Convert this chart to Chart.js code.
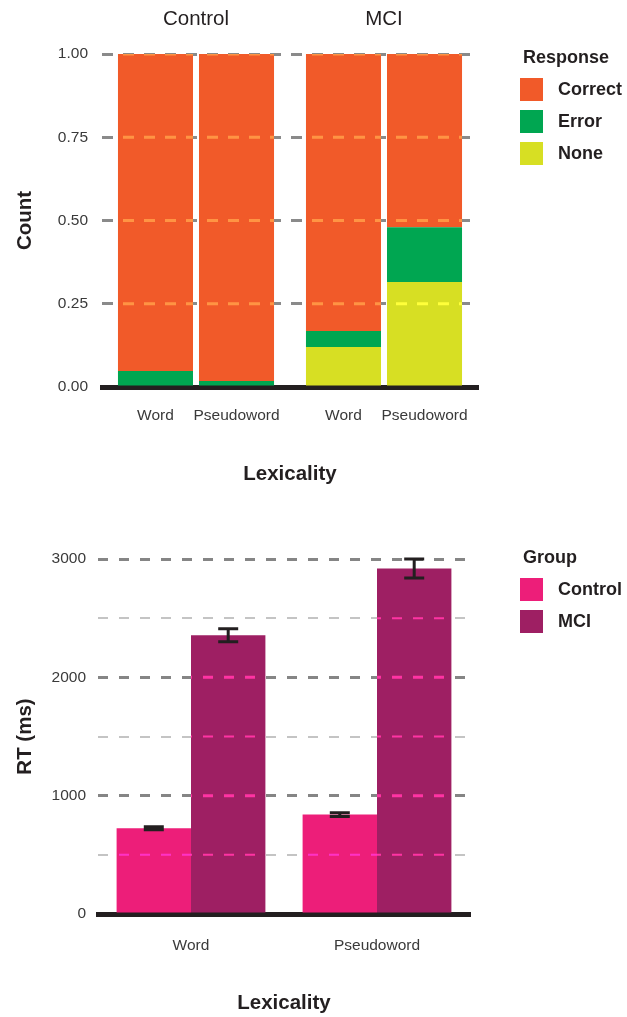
<!DOCTYPE html>
<html>
<head>
<meta charset="utf-8">
<script src="https://cdn.jsdelivr.net/npm/chart.js@4.4.0/dist/chart.umd.min.js"></script>
<style>
  body { margin: 0; background: #fff; font-family: "Liberation Sans", Arial, sans-serif; color: #231f20; }
  #wrap { position: relative; width: 627px; height: 1017px; }
  canvas { position: absolute; left: 0; }
  #top-chart { top: 0; }
  #rt-chart { top: 500px; }
  .legend { position: absolute; left: 520px; }
  .legend .title { font-weight: bold; font-size: 18px; line-height: 24px; margin-left: 3px; }
  .legend .item { display: flex; align-items: center; height: 32px; font-weight: bold; font-size: 18px; }
  .legend .swatch { width: 23px; height: 23px; margin-right: 15px; }
</style>
</head>
<body>
<div id="wrap">
  <canvas id="top-chart" width="627" height="500"></canvas>
  <canvas id="rt-chart" width="627" height="517"></canvas>
  <div class="legend" id="response-legend" style="top:45px"></div>
  <div class="legend" id="group-legend" style="top:545px"></div>
</div>
<script>
// --- data: response proportions (top) ---
const facets = ['Control', 'MCI'];
const lexicality = ['Word', 'Pseudoword'];
const responses = ['Correct', 'Error', 'None'];
const responseColors = ['#f15a29', '#00a651', '#d7df23'];
// one value per facet (Control, MCI)
const correctWord = [0.952, 0.832];
const errorWord = [0.048, 0.048];
const noneWord = [0, 0.12];
const correctPseudo = [0.982, 0.52];
const errorPseudo = [0.018, 0.165];
const nonePseudo = [0, 0.315];
const countTicks = [0, 0.25, 0.5, 0.75, 1];

// --- data: reaction times (bottom) ---
const groups = ['Control', 'MCI'];
const groupColors = ['#ed1e79', '#9e1f63'];
const rtControl = [725, 840];
const rtMCI = [2355, 2920];
const seControl = [12, 15];
const seMCI = [55, 80];

const FONT = '"Liberation Sans", Arial, sans-serif';
const INK = '#231f20';
const TICK = '#3a3a3a';

// html legends
const buildLegend = (el, title, names, colors) => {
  let html = '<div class="title">' + title + '</div><div style="height:4px"></div>';
  names.forEach((n, i) => {
    html += '<div class="item"><div class="swatch" style="background:' + colors[i] + '"></div>' + n + '</div>';
  });
  el.innerHTML = html;
};
buildLegend(document.getElementById('response-legend'), 'Response', responses, responseColors);
buildLegend(document.getElementById('group-legend'), 'Group', groups, groupColors);

// light dashes over the bars where grid lines cross them
const gridOverlay = {
  id: 'gridOverlay',
  afterDatasetsDraw(chart, args, opts) {
    const ctx = chart.ctx;
    const y = chart.scales.y;
    const area = chart.chartArea;
    ctx.save();
    ctx.beginPath();
    chart.data.datasets.forEach((ds, di) => {
      chart.getDatasetMeta(di).data.forEach(bar => {
        const p = bar.getProps(['x', 'y', 'base', 'width'], true);
        ctx.rect(p.x - p.width / 2, Math.min(p.y, p.base), p.width, Math.abs(p.base - p.y));
      });
    });
    ctx.clip();
    ctx.globalCompositeOperation = 'color-dodge';
    ctx.setLineDash(opts.dash);
    ctx.strokeStyle = 'rgb(100,100,100)';
    y.ticks.forEach(t => {
      if (t.value === 0) return;
      const py = y.getPixelForValue(t.value);
      ctx.lineWidth = opts.width(t.value);
      ctx.beginPath();
      ctx.moveTo(area.left, py);
      ctx.lineTo(area.right, py);
      ctx.stroke();
    });
    ctx.restore();
  }
};

// facet titles + per-bar lexicality labels for the top chart
const facetLabels = {
  id: 'facetLabels',
  afterDraw(chart) {
    const ctx = chart.ctx;
    const x = chart.scales.x;
    const area = chart.chartArea;
    ctx.save();
    ctx.fillStyle = INK;
    ctx.textAlign = 'center';
    ctx.textBaseline = 'middle';
    ctx.font = '20.5px ' + FONT;
    facets.forEach((f, i) => ctx.fillText(f, x.getPixelForValue(i), area.top - 35));
    ctx.fillStyle = TICK;
    ctx.font = '15.5px ' + FONT;
    [0, 3].forEach((di, li) => {
      chart.getDatasetMeta(di).data.forEach(bar => {
        ctx.fillText(lexicality[li], bar.x, area.bottom + 29);
      });
    });
    ctx.restore();
  }
};

const stackSet = (label, data, stack) => ({
  label, data, stack,
  backgroundColor: responseColors[responses.indexOf(label)],
  categoryPercentage: 0.862,
  barPercentage: 0.926
});

new Chart(document.getElementById('top-chart'), {
  type: 'bar',
  data: {
    labels: facets,
    datasets: [
      stackSet('None', noneWord, 'Word'),
      stackSet('Error', errorWord, 'Word'),
      stackSet('Correct', correctWord, 'Word'),
      stackSet('None', nonePseudo, 'Pseudoword'),
      stackSet('Error', errorPseudo, 'Pseudoword'),
      stackSet('Correct', correctPseudo, 'Pseudoword')
    ]
  },
  plugins: [gridOverlay, facetLabels],
  options: {
    responsive: false,
    animation: false,
    layout: { padding: { top: 54, right: 149, left: 0, bottom: 0 } },
    plugins: {
      legend: { display: false },
      tooltip: { enabled: false },
      gridOverlay: { dash: [11, 10], width: () => 3 }
    },
    scales: {
      x: {
        stacked: true,
        ticks: { display: false },
        grid: { display: false, drawTicks: false },
        border: { display: true, color: INK, width: 5 },
        title: { display: true, text: 'Lexicality', color: INK, font: { family: FONT, size: 20.5, weight: 'bold' }, padding: { top: 0, bottom: 13 } },
        afterFit: s => { s.height = 113; }
      },
      y: {
        stacked: true,
        min: 0,
        max: 1,
        afterBuildTicks: s => { s.ticks = countTicks.map(v => ({ value: v })); },
        ticks: { callback: v => Number(v).toFixed(2), padding: 14, color: TICK, font: { family: FONT, size: 15.5 } },
        grid: { color: '#8a8a8a', lineWidth: 3, drawTicks: false },
        border: { display: false, dash: [11, 10] },
        title: { display: true, text: 'Count', color: INK, font: { family: FONT, size: 20.5, weight: 'bold' }, padding: { top: 13 } },
        afterFit: s => { s.width = 102; }
      }
    }
  }
});

// error bars for the RT chart
const errorBars = {
  id: 'errorBars',
  afterDatasetsDraw(chart) {
    const ctx = chart.ctx;
    const y = chart.scales.y;
    const errs = [seControl, seMCI];
    ctx.save();
    ctx.strokeStyle = INK;
    ctx.lineWidth = 3;
    chart.data.datasets.forEach((ds, di) => {
      chart.getDatasetMeta(di).data.forEach((bar, i) => {
        const top = y.getPixelForValue(ds.data[i] + errs[di][i]);
        const bot = y.getPixelForValue(ds.data[i] - errs[di][i]);
        ctx.beginPath();
        ctx.moveTo(bar.x, top); ctx.lineTo(bar.x, bot);
        ctx.moveTo(bar.x - 10, top); ctx.lineTo(bar.x + 10, top);
        ctx.moveTo(bar.x - 10, bot); ctx.lineTo(bar.x + 10, bot);
        ctx.stroke();
      });
    });
    ctx.restore();
  }
};

new Chart(document.getElementById('rt-chart'), {
  type: 'bar',
  data: {
    labels: lexicality,
    datasets: [
      { label: 'Control', data: rtControl, backgroundColor: groupColors[0], categoryPercentage: 0.8, barPercentage: 1.0 },
      { label: 'MCI', data: rtMCI, backgroundColor: groupColors[1], categoryPercentage: 0.8, barPercentage: 1.0 }
    ]
  },
  plugins: [gridOverlay, errorBars],
  options: {
    responsive: false,
    animation: false,
    layout: { padding: { top: 59, right: 157, left: 0, bottom: 0 } },
    plugins: {
      legend: { display: false },
      tooltip: { enabled: false },
      gridOverlay: { dash: [10, 11], width: v => (v % 1000 === 0 ? 3 : 2) }
    },
    scales: {
      x: {
        ticks: { color: TICK, font: { family: FONT, size: 15.5 }, padding: 22 },
        grid: { display: false, drawTicks: false },
        border: { display: true, color: INK, width: 5 },
        title: { display: true, text: 'Lexicality', color: INK, font: { family: FONT, size: 20.5, weight: 'bold' }, padding: { top: 0, bottom: 1 } },
        afterFit: s => { s.height = 103; }
      },
      y: {
        min: 0,
        max: 3000,
        ticks: { stepSize: 500, callback: v => (v % 1000 === 0 ? v : ''), padding: 12, color: TICK, font: { family: FONT, size: 15.5 } },
        grid: {
          color: c => (c.tick.value % 1000 === 0 ? '#858585' : '#c4c4c4'),
          lineWidth: c => (c.tick.value % 1000 === 0 ? 3 : 2),
          drawTicks: false
        },
        border: { display: false, dash: [10, 11] },
        title: { display: true, text: 'RT (ms)', color: INK, font: { family: FONT, size: 20.5, weight: 'bold' }, padding: { top: 13 } },
        afterFit: s => { s.width = 98; }
      }
    }
  }
});
</script>
</body>
</html>
